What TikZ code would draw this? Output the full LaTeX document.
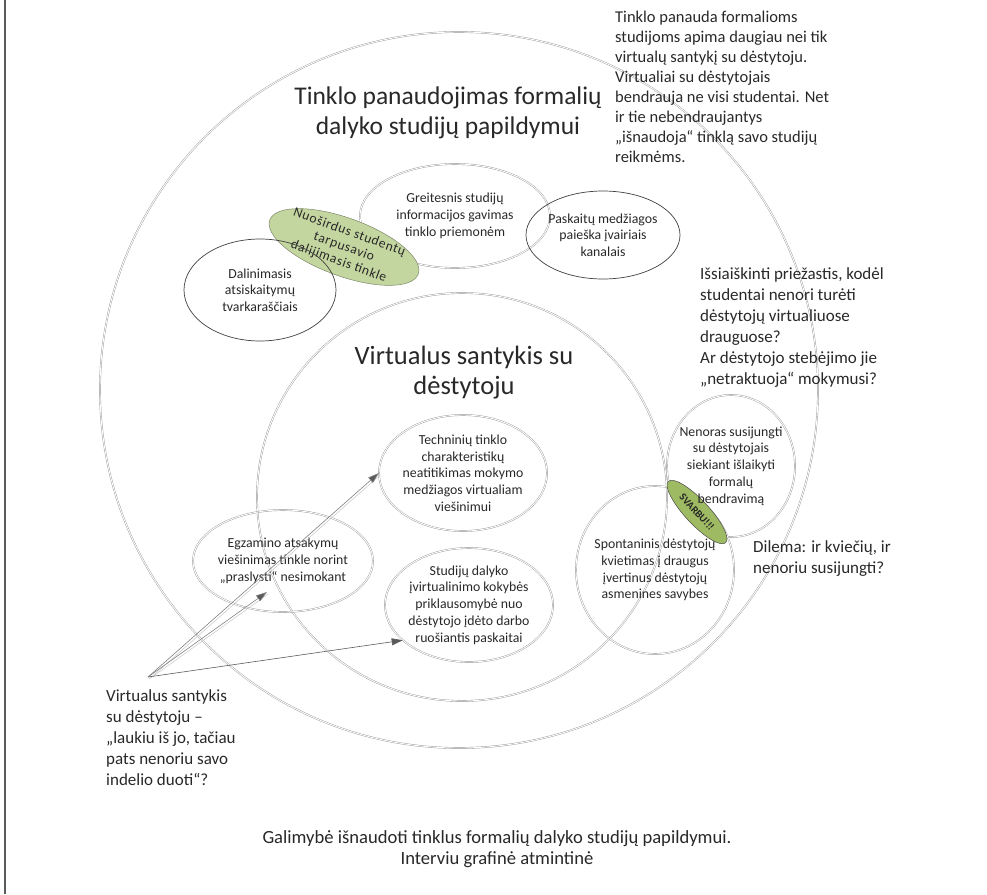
\documentclass[tikz,border=0pt]{standalone}
\usepackage{fontspec}
\setmainfont{Carlito}
\newfontfamily\widefont[LetterSpace=5]{Carlito}
\usetikzlibrary{shapes.geometric,arrows.meta}

\definecolor{ink}{RGB}{40,40,40}
\definecolor{ringline}{RGB}{150,150,150}
\definecolor{leaf}{RGB}{196,214,160}
\definecolor{leafedge}{RGB}{125,135,105}
\definecolor{moss}{RGB}{158,186,98}
\definecolor{tipgray}{RGB}{90,90,90}
\definecolor{frameline}{RGB}{90,90,90}

\tikzset{
  ring/.style={ellipse, draw=ringline, line width=0.4pt, double=white,
    double distance=0.9pt, inner sep=-20pt, align=center, text=ink},
  bubble/.style={ellipse, draw=black!75, line width=0.7pt, inner sep=-20pt,
    align=center, text=ink},
  blob/.style={ellipse, draw=leafedge, line width=0.5pt, fill=leaf,
    inner sep=-20pt, align=center, text=ink},
  small/.style={font=\fontsize{13.8}{16.7}\selectfont},
  heading/.style={font=\fontsize{25.5}{30}\selectfont, align=center,
    inner sep=0pt, text=ink},
  note/.style={font=\fontsize{17}{21}\selectfont, align=left, inner sep=0pt,
    text=ink},
  link/.style={draw=gray, line width=0.6pt,
    -{Triangle[length=11pt,width=7pt,fill=tipgray]}},
  linkshade/.style={draw=gray!45, line width=0.5pt},
}

\begin{document}
\begin{tikzpicture}[x=1pt, y=-1pt]
\useasboundingbox (0,0) rectangle (987,894);

% left margin rule
\draw[frameline, line width=1.3pt] (5,0) -- (5,894);

% the two nested study areas
\node[ring, minimum width=718, minimum height=716] (outer) at (459,390) {};
\node[ring, minimum width=410, minimum height=408] (inner) at (462,497) {};

% ideas around the formal studies
\node[ring, small, minimum width=190, minimum height=104] (fast) at (455,216)
  {Greitesnis studijų\\informacijos gavimas\\tinklo priemonėm};
\node[blob, rotate=-20, minimum width=158, minimum height=58,
  font=\widefont\fontsize{13.5}{15.5}\selectfont] (share) at (344,247)
  {Nuoširdus studentų\\tarpusavio\\dalijimasis tinkle};
\node[bubble, small, minimum width=152, minimum height=102] (timetable) at (260,290)
  {Dalinimasis\\atsiskaitymų\\tvarkaraščiais};
\node[bubble, small, minimum width=154, minimum height=88] (search) at (603,235)
  {Paskaitų medžiagos\\paieška įvairiais\\kanalais};

% ideas inside the virtual relation
\node[ring, small, minimum width=168, minimum height=116] (tech) at (463,473)
  {Techninių tinklo\\charakteristikų\\neatitikimas mokymo\\medžiagos virtualiam\\viešinimui};
\node[ring, small, minimum width=180, minimum height=102] (exam) at (283,561)
  {Egzamino atsakymų\\viešinimas tinkle norint\\„praslysti“ nesimokant};
\node[ring, small, minimum width=168, minimum height=114] (stud) at (469,605)
  {Studijų dalyko\\įvirtualinimo kokybės\\priklausomybė nuo\\dėstytojo įdėto darbo\\ruošiantis paskaitai};

% the tension between inviting and refusing
\node[ring, minimum width=128, minimum height=142] (reluct) at (731,466) {};
\node[ring, small, minimum width=158, minimum height=168] (spont) at (655,570)
  {Spontaninis dėstytojų\\kvietimas į draugus\\įvertinus dėstytojų\\asmenines savybes};
\node[ellipse, draw=black!70, line width=0.5pt, fill=moss, rotate=-47,
  minimum width=84, minimum height=24, inner sep=-20pt,
  font=\bfseries\fontsize{10.5}{11}\selectfont, text=black!85] (key) at (697,512)
  {SVARBU!!!};
\node[small, align=center, text=ink] (reluctlabel) at (reluct.center)
  {Nenoras susijungti\\su dėstytojais\\siekiant išlaikyti\\formalų\\bendravimą};

% area titles
\node[heading] (outerhead) at (448,113)
  {Tinklo panaudojimas formalių\\dalyko studijų papildymui};
\node[heading, font=\fontsize{26.5}{30}\selectfont] (innerhead) at (464,373)
  {Virtualus santykis su\\dėstytoju};

% remarks
\node[note, anchor=north west, font=\fontsize{16.5}{20}\selectfont] (aside) at (615,11)
  {Tinklo panauda formalioms\\studijoms apima daugiau nei tik\\virtualų santykį su dėstytoju.\\Virtualiai su dėstytojais\\bendrauja ne visi studentai. Net\\ir tie nebendraujantys\\„išnaudoja“ tinklą savo studijų\\reikmėms.};
\node[note, anchor=north west] (question) at (700,267)
  {Išsiaiškinti priežastis, kodėl\\studentai nenori turėti\\dėstytojų virtualiuose\\drauguose?\\Ar dėstytojo stebėjimo jie\\„netraktuoja“ mokymusi?};
\node[note, anchor=north west] (dilemma) at (753,540)
  {Dilema: ir kviečių, ir\\nenoriu susijungti?};
\node[note, anchor=north west] (expect) at (106,689)
  {Virtualus santykis\\su dėstytoju –\\„laukiu iš jo, tačiau\\pats nenoriu savo\\indelio duoti“?};
\node[note, anchor=north, align=center, font=\fontsize{18.6}{21}\selectfont] (caption) at (497,830)
  {Galimybė išnaudoti tinklus formalių dalyko studijų papildymui.\\Interviu grafinė atmintinė};

% pointers from the remark to the ideas
\coordinate (src) at (148,677);
\coordinate (examtip) at (267,592);
\draw[linkshade] ([shift={(1.5,1.8)}]src) -- ([shift={(1.5,1.8)}]tech.west);
\draw[linkshade] ([shift={(1.5,1.8)}]src) -- ([shift={(1.5,1.8)}]examtip);
\draw[link] (src) -- (tech.west);
\draw[link] (src) -- (examtip);
\draw[link, draw=tipgray] (src) -- (stud.208);
\end{tikzpicture}
\end{document}
